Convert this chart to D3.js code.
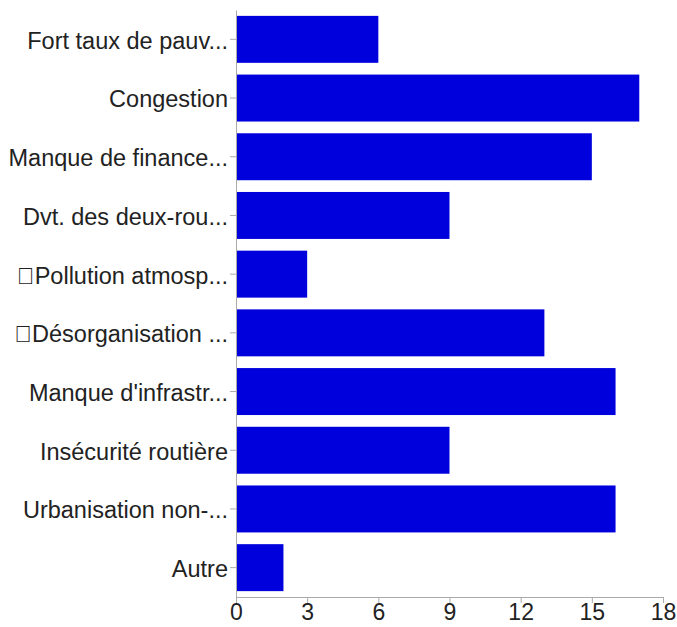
<!DOCTYPE html>
<html><head><meta charset="utf-8">
<script src="https://cdn.jsdelivr.net/npm/d3@7/dist/d3.min.js"></script>
<style>
html,body{margin:0;padding:0;background:#fff;}
text{font-family:"Liberation Sans",Arial,Helvetica,sans-serif;}
</style>
</head><body>
<svg id="chart" width="677" height="627"></svg>
<script>
const categories = ["Fort taux de pauv...", "Congestion", "Manque de finance...", "Dvt. des deux-rou...", "\uF0A7Pollution atmosp...", "\uF0A7Désorganisation ...", "Manque d'infrastr...", "Insécurité routière", "Urbanisation non-...", "Autre"];
const values = [6, 17, 15, 9, 3, 13, 16, 9, 16, 2];
const xTicks = [0, 3, 6, 9, 12, 15, 18];

const svg = d3.select("#chart");
const x = d3.scaleLinear().domain([0, 18]).range([236, 663]);
const y = d3.scaleBand().domain(categories).range([10, 597]).paddingInner(0.2).paddingOuter(0.1);

svg.selectAll("rect.bar").data(values).join("rect")
  .attr("class","bar")
  .attr("x", x(0))
  .attr("y", (d,i)=>y(categories[i]))
  .attr("width", d=>x(d)-x(0))
  .attr("height", y.bandwidth())
  .attr("fill", "#0000dd");

const xAxis = svg.append("g").attr("transform","translate(0,597)")
  .call(d3.axisBottom(x).tickValues(xTicks).tickSize(6).tickSizeOuter(6).tickPadding(1));
const yAxis = svg.append("g").attr("transform","translate(236,0)")
  .call(d3.axisLeft(y).tickSize(6).tickSizeOuter(0).tickPadding(2));

[xAxis, yAxis].forEach(g=>{
  g.selectAll("path.domain").attr("stroke","#aaa");
  g.selectAll(".tick line").attr("stroke","#aaa");
  g.selectAll("text").attr("fill","#222").style("font-size","23.5px").style("font-family","'Liberation Sans',Arial,sans-serif");
});
xAxis.selectAll("text").style("font-size","23px");
yAxis.selectAll("text").attr("dy","0.4em");
</script>
</body></html>
